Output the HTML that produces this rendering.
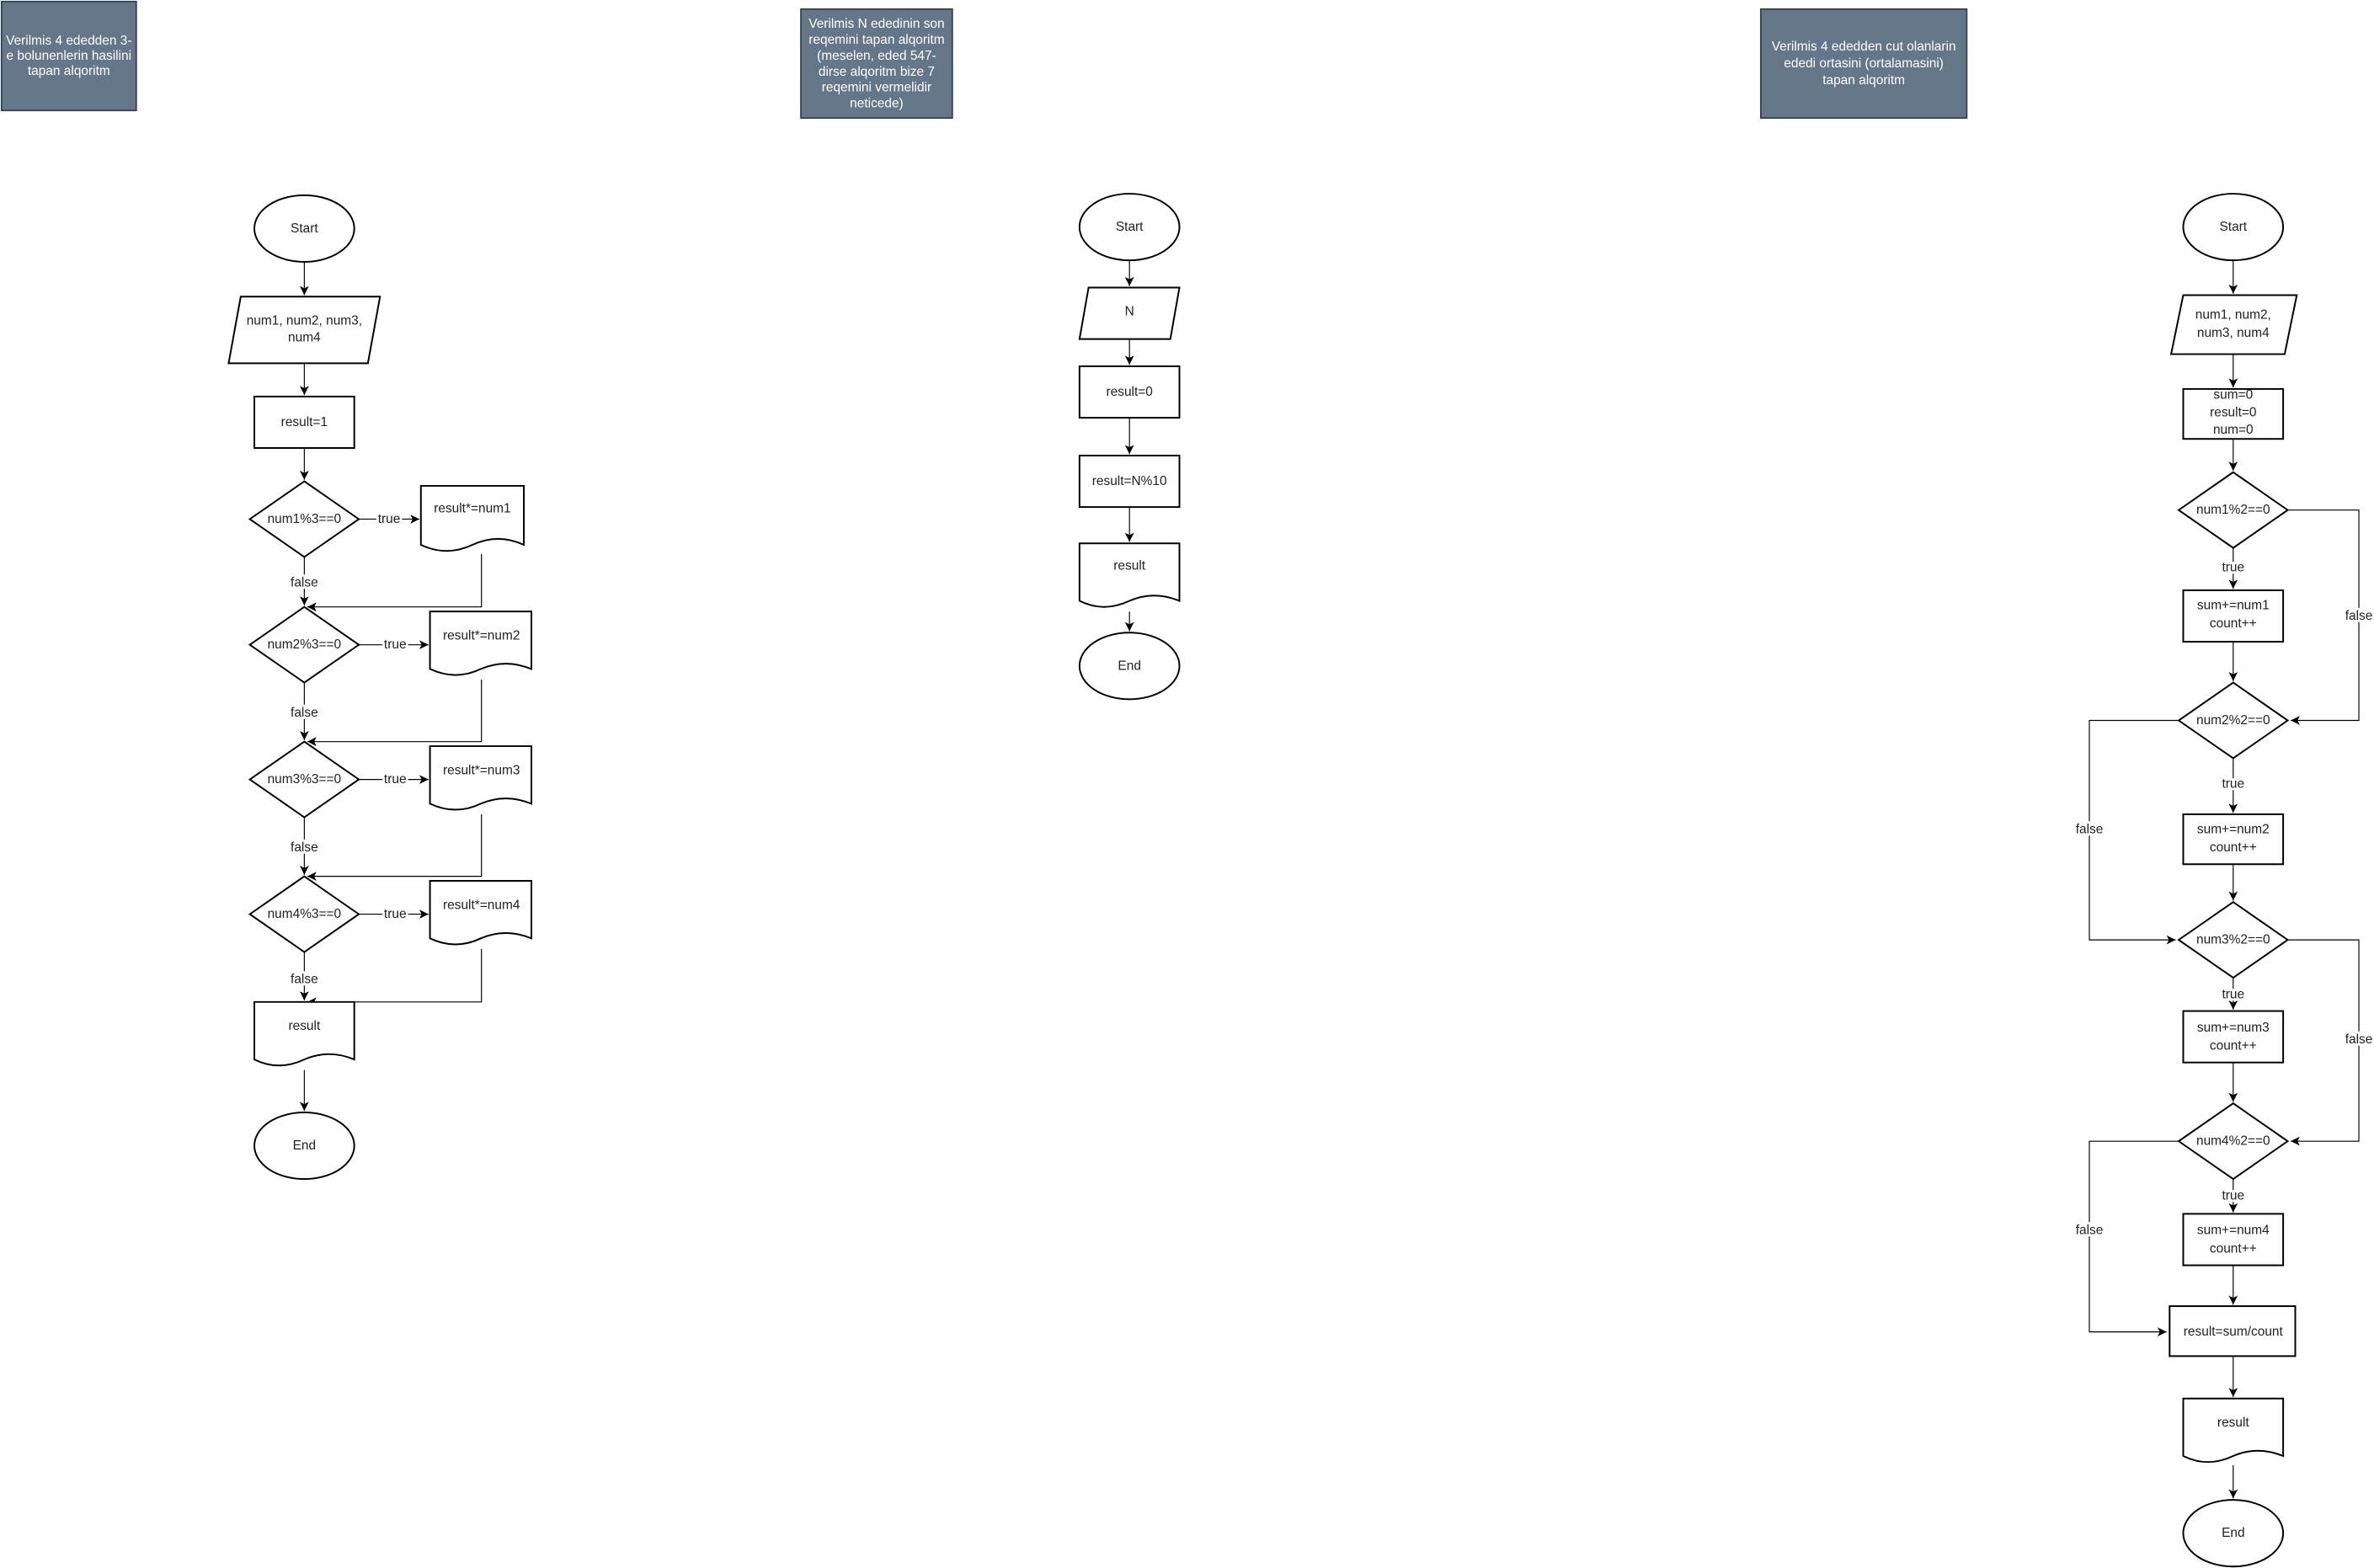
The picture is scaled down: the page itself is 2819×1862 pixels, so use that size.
<!DOCTYPE html>
<html><head><meta charset="utf-8"><style>
html,body{margin:0;padding:0;background:#fff;}
svg{display:block;}
text{font-family:"Liberation Sans",Arial,sans-serif;font-size:8.6px;fill:#222;text-anchor:middle;dominant-baseline:central;}
.t text,text.t{fill:#fff;}
.lbl{paint-order:stroke;stroke:#fff;stroke-width:3px;}
.s{fill:#fff;stroke:#000;stroke-width:1.1;}
.e{fill:none;stroke:#000;stroke-width:0.65;}
.hd{fill:#647687;stroke:#314354;stroke-width:1;}
</style></head><body>
<svg width="2819" height="1862" viewBox="0 0 1568 1036" preserveAspectRatio="none" xmlns="http://www.w3.org/2000/svg">
<defs><marker id="a" markerWidth="8" markerHeight="8" refX="6" refY="3" orient="auto" markerUnits="userSpaceOnUse"><path d="M0,0 L6,3 L0,6 L1.5,3 Z" fill="#000"/></marker></defs>

<!-- LEFT -->
<rect class="hd" x="1" y="1" width="89" height="72"/>
<text class="t" x="45.5" y="27">Verilmis 4 ededden 3-</text>
<text class="t" x="45.5" y="37">e bolunenlerin hasilini</text>
<text class="t" x="45.5" y="47">tapan alqoritm</text>

<ellipse class="s" cx="201" cy="151" rx="33" ry="22"/><text x="201" y="151">Start</text>
<path class="e" d="M201,173 V195" marker-end="url(#a)"/>
<polygon class="s" points="159,196 251,196 243,240 151,240"/>
<text x="201" y="212">num1, num2, num3,</text><text x="201" y="223">num4</text>
<path class="e" d="M201,240 V261" marker-end="url(#a)"/>
<rect class="s" x="168" y="262" width="66" height="34"/><text x="201" y="279">result=1</text>
<path class="e" d="M201,296 V317" marker-end="url(#a)"/>

<polygon class="s" points="201,318 237,343 201,368 165,343"/><text x="201" y="343">num1%3==0</text>
<path class="e" d="M237,343 H277" marker-end="url(#a)"/><text class="lbl" x="257" y="343">true</text>
<path class="s" d="M278,321 H346 V360 Q329,352 312,360 Q295,368 278,360 Z"/><text x="312" y="336">result*=num1</text>
<path class="e" d="M201,368 V400" marker-end="url(#a)"/><text class="lbl" x="201" y="385">false</text>
<path class="e" d="M318,366 V401 H203" marker-end="url(#a)"/>

<polygon class="s" points="201,401 237,426 201,451 165,426"/><text x="201" y="426">num2%3==0</text>
<path class="e" d="M237,426 H283" marker-end="url(#a)"/><text class="lbl" x="261" y="426">true</text>
<path class="s" d="M284,404 H351 V442 Q334,435 317.5,442 Q301,450 284,442 Z"/><text x="318" y="420">result*=num2</text>
<path class="e" d="M201,451 V489" marker-end="url(#a)"/><text class="lbl" x="201" y="471">false</text>
<path class="e" d="M318,449 V490 H203" marker-end="url(#a)"/>

<polygon class="s" points="201,490 237,515 201,540 165,515"/><text x="201" y="515">num3%3==0</text>
<path class="e" d="M237,515 H283" marker-end="url(#a)"/><text class="lbl" x="261" y="515">true</text>
<path class="s" d="M284,493 H351 V531 Q334,524 317.5,531 Q301,539 284,531 Z"/><text x="318" y="509">result*=num3</text>
<path class="e" d="M201,540 V578" marker-end="url(#a)"/><text class="lbl" x="201" y="560">false</text>
<path class="e" d="M318,538 V579 H203" marker-end="url(#a)"/>

<polygon class="s" points="201,579 237,604 201,629 165,604"/><text x="201" y="604">num4%3==0</text>
<path class="e" d="M237,604 H283" marker-end="url(#a)"/><text class="lbl" x="261" y="604">true</text>
<path class="s" d="M284,582 H351 V620 Q334,613 317.5,620 Q301,628 284,620 Z"/><text x="318" y="598">result*=num4</text>
<path class="e" d="M201,629 V661" marker-end="url(#a)"/><text class="lbl" x="201" y="647">false</text>
<path class="e" d="M318,627 V662 H203" marker-end="url(#a)"/>

<path class="s" d="M168,662 H234 V700 Q217,693 201,700 Q184,708 168,700 Z"/><text x="201" y="678">result</text>
<path class="e" d="M201,707 V734" marker-end="url(#a)"/>
<ellipse class="s" cx="201" cy="757" rx="33" ry="22"/><text x="201" y="757">End</text>

<!-- MIDDLE -->
<rect class="hd" x="529" y="6" width="100" height="72"/>
<text class="t" x="579" y="16">Verilmis N ededinin son</text>
<text class="t" x="579" y="26.5">reqemini tapan alqoritm</text>
<text class="t" x="579" y="37">(meselen, eded 547-</text>
<text class="t" x="579" y="47.5">dirse alqoritm bize 7</text>
<text class="t" x="579" y="58">reqemini vermelidir</text>
<text class="t" x="579" y="68.5">neticede)</text>

<ellipse class="s" cx="746" cy="150" rx="33" ry="22"/><text x="746" y="150">Start</text>
<path class="e" d="M746,172 V189" marker-end="url(#a)"/>
<polygon class="s" points="719,190 779,190 773,224 713,224"/><text x="746" y="206">N</text>
<path class="e" d="M746,224 V241" marker-end="url(#a)"/>
<rect class="s" x="713" y="242" width="66" height="34"/><text x="746" y="259">result=0</text>
<path class="e" d="M746,276 V300" marker-end="url(#a)"/>
<rect class="s" x="713" y="301" width="66" height="34"/><text x="746" y="318">result=N%10</text>
<path class="e" d="M746,335 V358" marker-end="url(#a)"/>
<path class="s" d="M713,359 H779 V397 Q762,390 746,397 Q729,405 713,397 Z"/><text x="746" y="374">result</text>
<path class="e" d="M746,404 V417" marker-end="url(#a)"/>
<ellipse class="s" cx="746" cy="440" rx="33" ry="22"/><text x="746" y="440">End</text>

<!-- RIGHT -->
<rect class="hd" x="1163" y="6" width="136" height="72"/>
<text class="t" x="1231" y="31">Verilmis 4 ededden cut olanlarin</text>
<text class="t" x="1231" y="42">ededi ortasini (ortalamasini)</text>
<text class="t" x="1231" y="53">tapan alqoritm</text>

<ellipse class="s" cx="1475" cy="150" rx="33" ry="22"/><text x="1475" y="150">Start</text>
<path class="e" d="M1475,172 V194" marker-end="url(#a)"/>
<polygon class="s" points="1442,195 1517,195 1509,234 1434,234"/>
<text x="1475" y="208">num1, num2,</text><text x="1475" y="220">num3, num4</text>
<path class="e" d="M1475,234 V256" marker-end="url(#a)"/>
<rect class="s" x="1442" y="257" width="66" height="33"/>
<text x="1475" y="261">sum=0</text><text x="1475" y="272.5">result=0</text><text x="1475" y="284">num=0</text>
<path class="e" d="M1475,290 V311" marker-end="url(#a)"/>

<polygon class="s" points="1475,312 1511,337 1475,362 1439,337"/><text x="1475" y="337">num1%2==0</text>
<path class="e" d="M1475,362 V389" marker-end="url(#a)"/><text class="lbl" x="1475" y="375">true</text>
<rect class="s" x="1442" y="390" width="66" height="34"/><text x="1475" y="400">sum+=num1</text><text x="1475" y="412">count++</text>
<path class="e" d="M1475,424 V450" marker-end="url(#a)"/>
<path class="e" d="M1511,337 H1558 V476 H1513" marker-end="url(#a)"/><text class="lbl" x="1558" y="407">false</text>

<polygon class="s" points="1475,451 1511,476 1475,501 1439,476"/><text x="1475" y="476">num2%2==0</text>
<path class="e" d="M1475,501 V537" marker-end="url(#a)"/><text class="lbl" x="1475" y="518">true</text>
<rect class="s" x="1442" y="538" width="66" height="33"/><text x="1475" y="548">sum+=num2</text><text x="1475" y="560">count++</text>
<path class="e" d="M1475,571 V595" marker-end="url(#a)"/>
<path class="e" d="M1439,476 H1380 V621 H1437" marker-end="url(#a)"/><text class="lbl" x="1380" y="548">false</text>

<polygon class="s" points="1475,596 1511,621 1475,646 1439,621"/><text x="1475" y="621">num3%2==0</text>
<path class="e" d="M1475,646 V667" marker-end="url(#a)"/><text class="lbl" x="1475" y="657">true</text>
<rect class="s" x="1442" y="668" width="66" height="34"/><text x="1475" y="679">sum+=num3</text><text x="1475" y="691">count++</text>
<path class="e" d="M1475,702 V728" marker-end="url(#a)"/>
<path class="e" d="M1511,621 H1558 V754 H1513" marker-end="url(#a)"/><text class="lbl" x="1558" y="687">false</text>

<polygon class="s" points="1475,729 1511,754 1475,779 1439,754"/><text x="1475" y="754">num4%2==0</text>
<path class="e" d="M1475,779 V801" marker-end="url(#a)"/><text class="lbl" x="1475" y="790">true</text>
<rect class="s" x="1442" y="802" width="66" height="34"/><text x="1475" y="813">sum+=num4</text><text x="1475" y="825">count++</text>
<path class="e" d="M1475,836 V862" marker-end="url(#a)"/>
<path class="e" d="M1439,754 H1380 V880 H1431" marker-end="url(#a)"/><text class="lbl" x="1380" y="813">false</text>

<rect class="s" x="1433" y="863" width="83" height="33"/><text x="1475" y="880">result=sum/count</text>
<path class="e" d="M1475,896 V923" marker-end="url(#a)"/>
<path class="s" d="M1442,924 H1508 V962 Q1491,955 1475,962 Q1458,970 1442,962 Z"/><text x="1475" y="940">result</text>
<path class="e" d="M1475,968 V990" marker-end="url(#a)"/>
<ellipse class="s" cx="1475" cy="1013" rx="33" ry="22"/><text x="1475" y="1013">End</text>
</svg>
</body></html>
